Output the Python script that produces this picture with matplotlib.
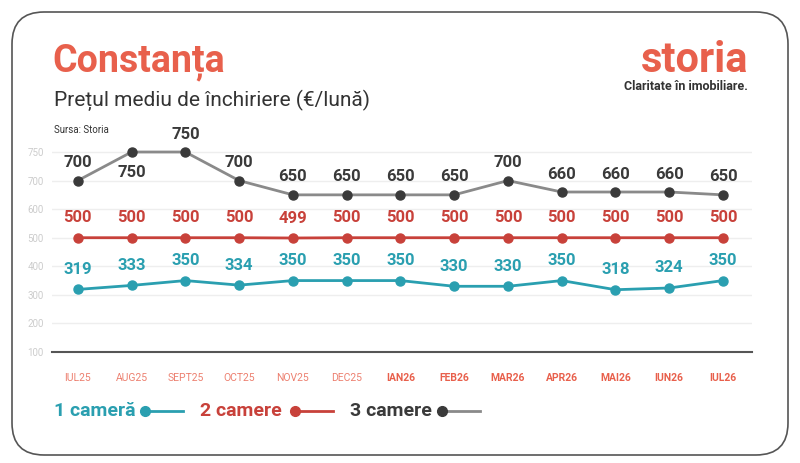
import numpy as np
import matplotlib.pyplot as plt
from matplotlib.patches import FancyBboxPatch
from matplotlib.lines import Line2D

months = ['IUL25', 'AUG25', 'SEPT25', 'OCT25', 'NOV25', 'DEC25', 'IAN26',
          'FEB26', 'MAR26', 'APR26', 'MAI26', 'IUN26', 'IUL26']
cam1 = [319, 333, 350, 334, 350, 350, 350, 330, 330, 350, 318, 324, 350]
cam2 = [500, 500, 500, 500, 499, 500, 500, 500, 500, 500, 500, 500, 500]
cam3 = [700, 750, 750, 700, 650, 650, 650, 650, 700, 660, 660, 660, 650]
yticks = [100, 200, 300, 400, 500, 600, 700, 750]

teal = '#2a9fb0'
red = '#c8413a'
dark = '#3a3a3a'
coral = '#e8604c'

# the original axis stretches 700-750 to the size of a 100 step
brk_v = [0, 700, 750, 2000]
brk_t = [0, 700, 800, 2050]
def fwd(v):
    return np.interp(v, brk_v, brk_t)
def inv(t):
    return np.interp(t, brk_t, brk_v)

plt.rcParams['font.family'] = ['Roboto', 'DejaVu Sans']
fig = plt.figure(figsize=(8, 4.63), dpi=100)
fig.patches.append(FancyBboxPatch((12/800, 1-455/463), 776/800, 443/463,
                                  boxstyle='round,pad=0,rounding_size=0.04',
                                  transform=fig.transFigure, fc='white',
                                  ec='#555555', lw=1.2, mutation_aspect=800/463,
                                  zorder=-5))

ax = fig.add_axes([52/800, 1-352/463, 700/800, 222/463])
ax.set_facecolor('none')
ax.set_yscale('function', functions=(fwd, inv))
x = range(len(months))
ax.plot(x, cam1, color=teal, lw=2, marker='o', ms=6.5, mfc=teal, mec=teal)
ax.plot(x, cam2, color=red, lw=2, marker='o', ms=6.5, mfc=red, mec=red)
ax.plot(x, cam3, color='#8a8a8a', lw=2, marker='o', ms=6.5, mfc=dark, mec=dark)
ax.set_xlim(-0.48, 12.54)
ax.set_ylim(100, 827)

for i in x:
    ax.annotate(str(cam1[i]), (i, cam1[i]), xytext=(0, 20), textcoords='offset pixels',
                color=teal, ha='center', va='center', fontsize=12, fontweight='bold')
    ax.annotate(str(cam2[i]), (i, cam2[i]), xytext=(0, 20), textcoords='offset pixels',
                color=red, ha='center', va='center', fontsize=12, fontweight='bold')
    dy = -20 if i == 1 else 18
    ax.annotate(str(cam3[i]), (i, cam3[i]), xytext=(0, dy), textcoords='offset pixels',
                color=dark, ha='center', va='center', fontsize=12, fontweight='bold')

ax.set_yticks(yticks)
ax.set_yticklabels([str(v) for v in yticks], color='#cccccc', fontsize=7)
ax.yaxis.set_minor_locator(plt.NullLocator())
ax.set_xticks(list(x))
ax.set_xticklabels(months, fontsize=7.5, color=coral)
for k, lab in enumerate(ax.get_xticklabels()):
    if k >= 6:
        lab.set_fontweight('bold')
    else:
        lab.set_alpha(0.8)
ax.tick_params(length=0, pad=15)
ax.tick_params(axis='y', pad=6)
for s in ['top', 'right', 'left']:
    ax.spines[s].set_visible(False)
ax.spines['bottom'].set_color('#555555')
ax.spines['bottom'].set_linewidth(1.5)
ax.grid(axis='y', color='#eeeeee', lw=1)
ax.set_axisbelow(True)

fig.text(52/800, 1-62/463, 'Constanța', color=coral, fontsize=27,
         fontweight='bold', va='center')
fig.text(54/800, 1-100/463, 'Prețul mediu de închiriere (€/lună)', color='#333333',
         fontsize=15, va='center')
fig.text(54/800, 1-130/463, 'Sursa: Storia', color='#333333', fontsize=7, va='center')
fig.text(748/800, 1-60/463, 'storia', color=coral, fontsize=30, fontweight='bold',
         ha='right', va='center')
fig.text(748/800, 1-87/463, 'Claritate în imobiliare.', color='#333333', fontsize=9,
         fontweight='bold', ha='right', va='center')

ly = 1 - 411/463
items = [('1 cameră', teal, teal, 54, 145), ('2 camere', red, red, 200, 295),
         ('3 camere', dark, '#8a8a8a', 350, 442)]
for label, c, lc, tx, mx in items:
    fig.text(tx/800, ly, label, color=c, fontsize=14, fontweight='bold', va='center')
    fig.add_artist(Line2D([mx/800, (mx+38)/800], [ly, ly], color=lc, lw=2,
                          transform=fig.transFigure))
    fig.add_artist(Line2D([mx/800], [ly], color=c, marker='o', ms=7,
                          transform=fig.transFigure))

fig.savefig('out.png', dpi=100)
